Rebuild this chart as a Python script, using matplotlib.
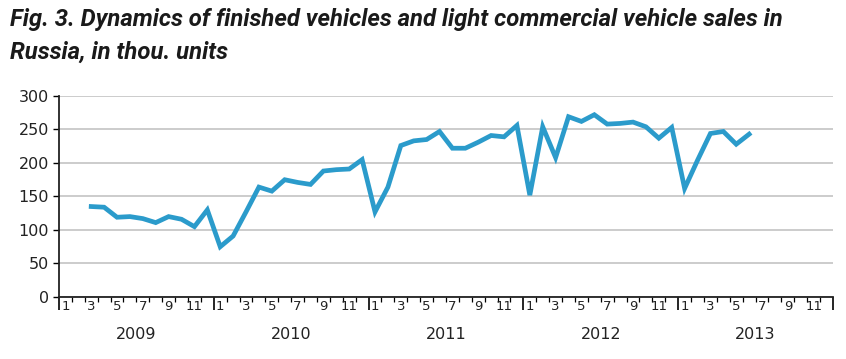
import numpy as np
import matplotlib.pyplot as plt
from matplotlib.ticker import FixedLocator, NullFormatter

# monthly sales, thou. units, Mar 2009 .. Jun 2013
first_month = 2  # index of March 2009 counted from Jan 2009
sales = [135, 134, 119, 120, 117, 111, 120, 116, 105, 130,
         75, 91, 127, 164, 158, 175, 171, 168, 188, 190, 191, 205,
         127, 164, 226, 233, 235, 247, 222, 222, 231, 241, 239, 256,
         152, 254, 208, 269, 262, 272, 258, 259, 261, 254, 237, 253,
         162, 204, 244, 247, 228, 243]
years = ['2009', '2010', '2011', '2012', '2013']
month_labels = ['1', '3', '5', '7', '9', '11']
y_ticks = [0, 50, 100, 150, 200, 250, 300]

line_color = '#2b9bcb'
grid_color = '#c8c8c8'

fig = plt.figure(figsize=(8.46, 3.59), dpi=100)
ax = fig.add_axes([0.0697, 0.1727, 0.9149, 0.56])

x = np.arange(len(sales)) + first_month + 0.5
ax.plot(x, sales, color=line_color, lw=3.4, solid_joinstyle='miter', zorder=3)

n_months = 12 * len(years)
ax.set_xlim(0, n_months)
ax.set_ylim(0, 300)
ax.set_yticks(y_ticks)
ax.set_yticklabels([str(v) for v in y_ticks], fontsize=11.5, color='#222222')
ax.yaxis.grid(True, color=grid_color, lw=1.3)
ax.set_axisbelow(True)
ax.tick_params(axis='y', length=4, width=1, pad=3)

# year boundaries long ticks, month boundaries short ones
ax.xaxis.set_major_locator(FixedLocator(np.arange(0, n_months + 1, 12)))
ax.xaxis.set_minor_locator(FixedLocator(np.arange(0, n_months + 1)))
ax.xaxis.set_major_formatter(NullFormatter())
ax.tick_params(axis='x', which='major', length=9, width=1.2, direction='out')
ax.tick_params(axis='x', which='minor', length=3.5, width=0.9, direction='out')

for s in ['top', 'right']:
    ax.spines[s].set_visible(False)
for s in ['left', 'bottom']:
    ax.spines[s].set_linewidth(1.3)
    ax.spines[s].set_color('#222222')

trans = ax.get_xaxis_transform()
for yi, yr in enumerate(years):
    for m in month_labels:
        ax.text(yi * 12 + int(m) - 0.5, -0.045, m, transform=trans,
                ha='center', va='center', fontsize=9.5, color='#222222')
    ax.text(yi * 12 + 6, -0.185, yr, transform=trans,
            ha='center', va='center', fontsize=11.5, color='#222222')

title = ('Fig. 3. Dynamics of finished vehicles and light commercial vehicle sales in\n'
         'Russia, in thou. units')
fig.text(0.012, 0.978, title, ha='left', va='top', fontsize=17.2,
         fontweight='bold', fontstyle='italic', linespacing=1.55,
         family=['Roboto', 'DejaVu Sans'], color='#1a1a1a')

fig.savefig('out.png', dpi=100)
